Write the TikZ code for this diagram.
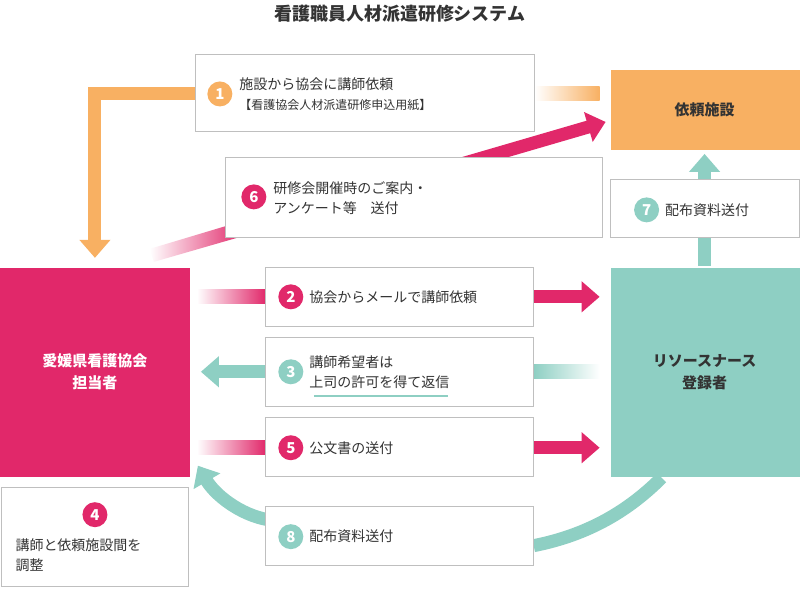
\documentclass[tikz,border=0pt]{standalone}
\usepackage{fontspec}
\setmainfont{Noto Sans CJK JP}
\usetikzlibrary{arrows.meta}
\definecolor{pinkc}{HTML}{E1286A}
\definecolor{orangec}{HTML}{F8B062}
\definecolor{tealc}{HTML}{8ECFC3}
\definecolor{textc}{HTML}{333333}
\begin{document}
\begin{tikzpicture}[x=1pt,y=-1pt]
\tikzset{
  stepbox/.style={draw=black!25, line width=1pt, fill=white},
  num/.style={circle, inner sep=0pt, minimum size=25pt, text=white, font=\bfseries\fontsize{15}{15}\selectfont},
  lbl/.style={anchor=west, align=left, text=textc, font=\fontsize{14}{20}\selectfont},
  flow/.style={line width=13pt, -{Triangle[length=18pt,width=30pt]}},
}
\fill[white] (0,0) rectangle (800,590);
\node[text=textc, font=\bfseries\fontsize{18}{20}\selectfont] (title) at (400,14) {看護職員人材派遣研修システム};
% main boxes
\fill[pinkc] (0,268) rectangle (190,477);
\node[text=white, font=\bfseries\fontsize{15}{22}\selectfont, align=center] (kyokai) at (95,372) {愛媛県看護協会\\担当者};
\fill[orangec] (611,70) rectangle (800,150);
\node[text=textc, font=\bfseries\fontsize{15}{20}\selectfont] (shisetsu) at (705,110) {依頼施設};
\fill[tealc] (611,268) rectangle (800,477);
\node[text=textc, font=\bfseries\fontsize{15}{22}\selectfont, align=center] (nurse) at (705,372) {リソースナース\\登録者};
% fades
\shade[left color=white, right color=orangec] (535,87) rectangle (600,101);
\shade[left color=white, right color=pinkc] (197,290) rectangle (266,304);
\shade[left color=white, right color=pinkc] (197,441) rectangle (266,455);
\shade[left color=tealc, right color=white] (534,365) rectangle (600,379);
% arrows
\coordinate (o1) at (196,94);
\coordinate (o2) at (95,258);
\draw[flow, orangec] (o1) -- (95,94) -- (o2);
\coordinate (p6a) at (150,255);
\coordinate (p6b) at (606,122);
\shade[left color=white, right color=pinkc] (150,249) -- (240,222) -- (244,236) -- (154,262) -- cycle;
\draw[flow, pinkc, shorten <=260pt] (p6a) -- (p6b);
\coordinate (t7a) at (705,266);
\coordinate (t7b) at (705,154);
\draw[flow, tealc] (t7a) -- (t7b);
\draw[flow, pinkc] (534,297) -- (600,297);
\draw[flow, tealc] (266,372) -- (201,372);
\draw[flow, pinkc] (534,448) -- (600,448);
\coordinate (t8a) at (662,478);
\coordinate (t8b) at (198,466);
\draw[line width=13pt, tealc] (534,546) .. controls (590,535) and (630,510) .. (t8a);
\draw[flow, tealc] (268,520) .. controls (240,515) and (215,495) .. (t8b);
% step boxes
\draw[stepbox] (196,55) rectangle (535,132);
\node[num, fill=orangec] (n1) at (220,94) {1};
\node[lbl] (l1) at (236,94) {施設から協会に講師依頼\\{\fontsize{12}{18}\selectfont 【看護協会人材派遣研修申込用紙】}};
\draw[stepbox] (226,158) rectangle (603,238);
\node[num, fill=pinkc] (n6) at (254,197) {6};
\node[lbl] (l6) at (270,198) {研修会開催時のご案内・\\アンケート等\quad 送付};
\draw[stepbox] (611,180) rectangle (800,238);
\node[num, fill=tealc] (n7) at (647,210) {7};
\node[lbl] (l7) at (662,210) {配布資料送付};
\draw[stepbox] (266,268) rectangle (534,327);
\node[num, fill=pinkc] (n2) at (291,297) {2};
\node[lbl] (l2) at (306,297) {協会からメールで講師依頼};
\draw[stepbox] (266,338) rectangle (534,407);
\node[num, fill=tealc] (n3) at (291,372) {3};
\node[lbl] (l3) at (306,372) {講師希望者は\\上司の許可を得て返信};
\draw[tealc, line width=1.5pt] (314,396) -- (448,396);
\draw[stepbox] (266,418) rectangle (534,477);
\node[num, fill=pinkc] (n5) at (291,448) {5};
\node[lbl] (l5) at (306,448) {公文書の送付};
\draw[stepbox] (266,507) rectangle (534,566);
\node[num, fill=tealc] (n8) at (291,537) {8};
\node[lbl] (l8) at (306,537) {配布資料送付};
\draw[stepbox] (2,488) rectangle (189,587);
\node[num, fill=pinkc] (n4) at (95,515) {4};
\node[lbl] (l4) at (12,556) {講師と依頼施設間を\\調整};
\end{tikzpicture}
\end{document}
